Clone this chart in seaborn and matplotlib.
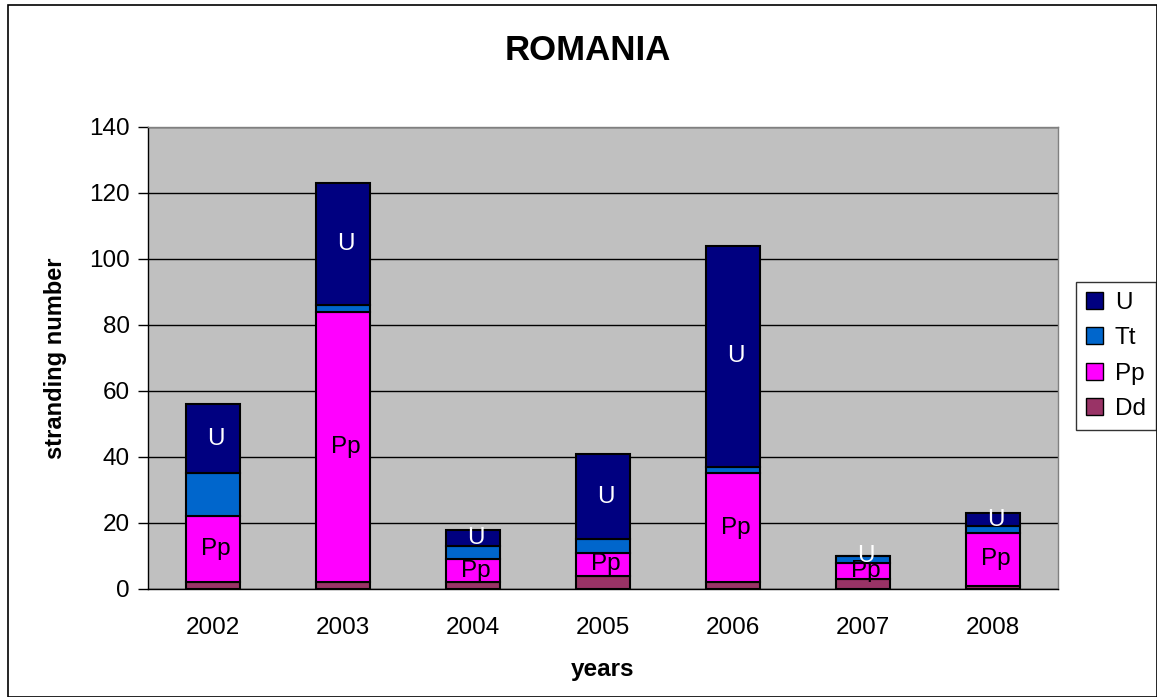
import matplotlib
matplotlib.use("Agg")
import matplotlib.pyplot as plt
import seaborn as sns
import numpy as np
from matplotlib.patches import Patch, Rectangle

years = ["2002", "2003", "2004", "2005", "2006", "2007", "2008"]
dd = [2, 2, 2, 4, 2, 3, 1]
pp = [20, 82, 7, 7, 33, 5, 16]
tt = [13, 2, 4, 4, 2, 2, 2]
u = [21, 37, 5, 26, 67, 0, 4]

series = ["Dd", "Pp", "Tt", "U"]
colors = {"Dd": "#993366", "Pp": "#FF00FF", "Tt": "#0066CC", "U": "#000080"}
values = {"Dd": dd, "Pp": pp, "Tt": tt, "U": u}

sns.set_style("white", {"text.color": "black", "axes.labelcolor": "black",
                        "xtick.color": "black", "ytick.color": "black"})
plt.rcParams["font.family"] = ["Liberation Sans", "DejaVu Sans"]

fig = plt.figure(figsize=(11.57, 6.97), dpi=100)
ax = fig.add_axes([0.1279, 0.155, 0.7865, 0.6628])
ax.set_facecolor("#C0C0C0")

bottom = np.zeros(len(years))
for name in series:
    vals = np.array(values[name], dtype=float)
    sns.barplot(x=years, y=vals, bottom=bottom, color=colors[name], width=0.42,
                edgecolor="black", linewidth=1.5, saturation=1, ax=ax, zorder=3)
    if name in ("Pp", "U"):
        tc = "black" if name == "Pp" else "white"
        for i, v in enumerate(vals):
            ax.text(i + 0.02, bottom[i] + v / 2, name, ha="center", va="center",
                    fontsize=17.5, color=tc, zorder=5)
    bottom += vals

ax.set_ylim(0, 140)
ax.set_xlim(-0.5, 6.5)
ax.set_yticks(range(0, 141, 20))
ax.yaxis.grid(True, color="black", linewidth=1)
ax.set_axisbelow(True)

ax.set_xticks(np.arange(-0.5, 7, 1), minor=True)
ax.tick_params(axis="x", which="major", length=0, pad=20, labelsize=17.5, labelcolor="black")
ax.tick_params(axis="x", which="minor", length=7, width=1, color="black", direction="out")
ax.tick_params(axis="y", length=7, width=1, color="black", direction="out",
               labelsize=17.5, labelcolor="black", pad=6)
ax.tick_params(bottom=True, left=True)

for side in ["left", "bottom"]:
    ax.spines[side].set_color("black")
    ax.spines[side].set_linewidth(1)
for side in ["top", "right"]:
    ax.spines[side].set_color("#808080")
    ax.spines[side].set_linewidth(1)

ax.set_xlabel("years", fontsize=17.5, fontweight="bold", labelpad=14, color="black")
ax.set_ylabel("stranding number", fontsize=17, fontweight="bold", labelpad=16, color="black")
fig.text(0.508, 0.928, "ROMANIA", ha="center", va="center", fontsize=25,
         fontweight="bold", color="black")

handles = [Patch(facecolor=colors[n], edgecolor="black", label=n) for n in ["U", "Tt", "Pp", "Dd"]]
leg = fig.legend(handles=handles, loc="center left", bbox_to_anchor=(0.930, 0.489),
                 fontsize=17.5, frameon=True, fancybox=False, handlelength=0.7,
                 handleheight=0.7, handletextpad=0.5, labelspacing=0.55, borderpad=0.4,
                 borderaxespad=0)
leg.get_frame().set_edgecolor("black")
leg.get_frame().set_linewidth(1)

fig.patches.append(Rectangle((0.007, 0.0), 0.993, 0.993, transform=fig.transFigure,
                             fill=False, edgecolor="black", linewidth=1.2))

fig.savefig("out.png", dpi=100)
